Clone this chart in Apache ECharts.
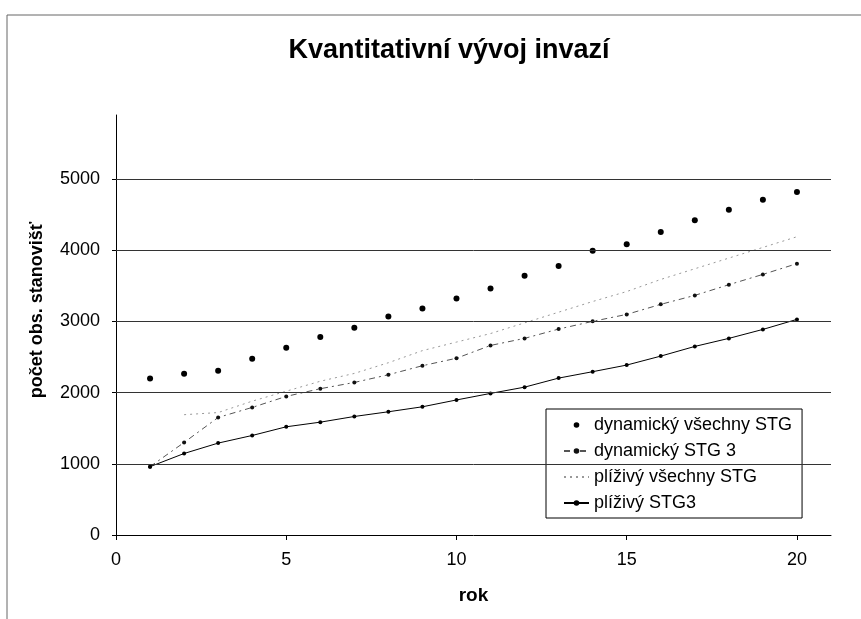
<!DOCTYPE html>
<html>
<head>
<meta charset="utf-8">
<title>Kvantitativní vývoj invazí</title>
<script src="https://cdn.jsdelivr.net/npm/echarts@6.0.0/dist/echarts.min.js"></script>
<style>
  html, body { margin: 0; padding: 0; background: #fff; }
  #chart { width: 861px; height: 619px; }
</style>
</head>
<body>
<div id="chart"></div>
<script>
// data
var years = [1, 2, 3, 4, 5, 6, 7, 8, 9, 10, 11, 12, 13, 14, 15, 16, 17, 18, 19, 20];
var dynVsechny = [2200, 2265, 2308, 2476, 2631, 2780, 2912, 3071, 3183, 3322, 3464, 3643, 3778, 3994, 4083, 4256, 4420, 4570, 4711, 4818];
var dynStg3 = [960, 1300, 1651, 1792, 1947, 2055, 2143, 2251, 2378, 2483, 2663, 2762, 2893, 3001, 3099, 3240, 3366, 3516, 3661, 3812];
var plizVsechny = [null, 1690, 1720, 1880, 2020, 2160, 2270, 2420, 2590, 2710, 2830, 2980, 3130, 3280, 3420, 3590, 3740, 3890, 4040, 4190];
var plizStg3 = [960, 1145, 1291, 1398, 1520, 1585, 1665, 1731, 1801, 1897, 1989, 2077, 2204, 2294, 2387, 2513, 2649, 2762, 2888, 3029];
var xTicks = [0, 5, 10, 15, 20];
var yTicks = [0, 1000, 2000, 3000, 4000, 5000];
var gridLines = [1000, 2000, 3000, 4000, 5000];
var names = ["dynamický všechny STG", "dynamický STG 3", "plíživý všechny STG", "plíživý STG3"];

var font = "'Liberation Sans', Arial, sans-serif";

function pairs(arr) {
  return years.map(function (y, i) { return [y, arr[i]]; });
}

var chart = echarts.init(document.getElementById("chart"));

chart.setOption({
  backgroundColor: "#fff",
  animation: false,
  title: {
    text: "Kvantitativní vývoj invazí",
    left: 444,
    textAlign: "center",
    top: 32,
    textStyle: { fontFamily: font, fontSize: 27, fontWeight: "bold", color: "#000" }
  },
  graphic: [
    {
      type: "polyline",
      shape: { points: [[7, 619], [7, 15], [861, 15]] },
      style: { stroke: "#666", lineWidth: 1, fill: null }
    }
  ],
  legend: {
    orient: "vertical",
    left: 546,
    top: 409,
    padding: [7, 10, 6, 17],
    itemWidth: 25,
    itemHeight: 7,
    itemGap: 8,
    backgroundColor: "#fff",
    borderColor: "#000",
    borderWidth: 1,
    textStyle: { fontFamily: font, fontSize: 18, color: "#000" },
    data: [
      names[0],
      names[1],
      { name: names[2], itemStyle: { color: "rgba(0,0,0,0)", borderWidth: 0 } },
      names[3]
    ]
  },
  grid: { left: 116, right: 30, top: 115, bottom: 84 },
  xAxis: {
    type: "value",
    min: 0,
    max: 21,
    name: "rok",
    nameLocation: "middle",
    nameGap: 51,
    nameTextStyle: { fontFamily: font, fontSize: 19, fontWeight: "bold", color: "#000" },
    axisLine: { lineStyle: { color: "#000", width: 1 } },
    axisTick: { customValues: xTicks, length: 5, lineStyle: { color: "#000" } },
    axisLabel: { customValues: xTicks, margin: 16, fontFamily: font, fontSize: 18, color: "#000" },
    splitLine: { show: false }
  },
  yAxis: {
    type: "value",
    min: 0,
    max: 5900,
    name: "počet obs. stanovišť",
    nameLocation: "middle",
    nameGap: 70,
    nameTextStyle: { fontFamily: font, fontSize: 18, fontWeight: "bold", color: "#000", padding: [0, 0, 0, 30] },
    axisLine: { show: true, lineStyle: { color: "#000", width: 1 } },
    axisTick: { show: true, customValues: yTicks, length: 4, lineStyle: { color: "#000" } },
    axisLabel: {
      customValues: yTicks,
      margin: 16,
      fontFamily: font,
      fontSize: 18,
      color: "#000",
      formatter: function (v) { return String(v); }
    },
    splitLine: { show: false }
  },
  series: [
    {
      name: names[0],
      type: "line",
      data: pairs(dynVsechny),
      symbol: "circle",
      symbolSize: 6,
      itemStyle: { color: "#000" },
      lineStyle: { width: 0 },
      markLine: {
        silent: true,
        symbol: ["none", "none"],
        label: { show: false },
        lineStyle: { color: "#333", type: "solid", width: 1 },
        data: gridLines.map(function (v) { return { yAxis: v }; })
      },
      z: 4
    },
    {
      name: names[1],
      type: "line",
      data: pairs(dynStg3),
      symbol: "circle",
      symbolSize: 4,
      itemStyle: { color: "#111" },
      lineStyle: { color: "#555", width: 1, type: [6, 4, 2, 4] },
      z: 3
    },
    {
      name: names[2],
      type: "line",
      data: pairs(plizVsechny),
      symbol: "none",
      connectNulls: false,
      itemStyle: { color: "#999" },
      lineStyle: { color: "#999", width: 1, type: [2, 4] },
      z: 2
    },
    {
      name: names[3],
      type: "line",
      data: pairs(plizStg3),
      symbol: "circle",
      symbolSize: 4,
      itemStyle: { color: "#000" },
      lineStyle: { color: "#000", width: 1 },
      z: 3
    }
  ]
});
</script>
</body>
</html>
